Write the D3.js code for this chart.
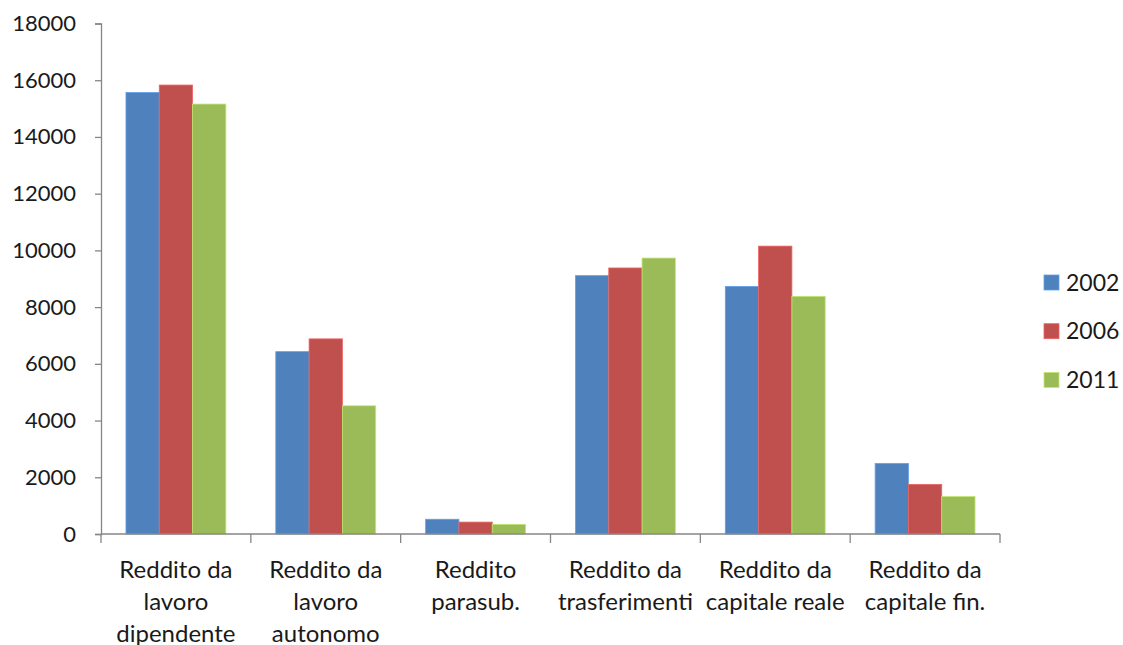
<!DOCTYPE html>
<html>
<head>
<meta charset="utf-8">
<script src="https://cdn.jsdelivr.net/npm/d3@7"></script>
<style>
  html, body { margin: 0; padding: 0; background: #fff; }
  svg { display: block; }
  text { font-family: "Lato", "Open Sans", sans-serif; fill: #1a1a1a; }
</style>
</head>
<body>
<svg id="chart" width="1123" height="645"></svg>
<script>
// Income components (values per year)
const categories = [
  ["Reddito da", "lavoro", "dipendente"],
  ["Reddito da", "lavoro", "autonomo"],
  ["Reddito", "parasub."],
  ["Reddito da", "trasferimenti"],
  ["Reddito da", "capitale reale"],
  ["Reddito da", "capitale fin."]
];
const seriesNames = ["2002", "2006", "2011"];
const values2002 = [15570, 6430, 520, 9110, 8730, 2490];
const values2006 = [15830, 6880, 420, 9380, 10150, 1750];
const values2011 = [15160, 4520, 340, 9730, 8380, 1320];
const yTicks = [0, 2000, 4000, 6000, 8000, 10000, 12000, 14000, 16000, 18000];
const colors = ["#4F81BD", "#C0504D", "#9BBB59"];

const seriesValues = [values2002, values2006, values2011];
const catKeys = categories.map((c, i) => i);

const svg = d3.select("#chart");
const plotLeft = 101, plotRight = 1000, plotTop = 23.5, plotBottom = 534;

const x = d3.scaleBand()
  .domain(catKeys)
  .range([plotLeft, plotRight])
  .paddingInner(1 / 3)
  .paddingOuter(1 / 6);

const xs = d3.scaleBand()
  .domain(seriesNames)
  .range([0, x.bandwidth()]);

const y = d3.scaleLinear().domain([0, 18000]).range([plotBottom, plotTop]);

// Bars
const groups = svg.append("g")
  .selectAll("g")
  .data(catKeys)
  .join("g")
  .attr("transform", d => `translate(${x(d)},0)`);

groups.selectAll("rect")
  .data(ci => seriesNames.map((s, si) => ({ s, si, v: seriesValues[si][ci] })))
  .join("rect")
  .attr("x", d => xs(d.s))
  .attr("y", d => y(d.v))
  .attr("width", xs.bandwidth())
  .attr("height", d => y(0) - y(d.v))
  .attr("fill", d => colors[d.si])
  .attr("stroke", d => d3.color(colors[d.si]).brighter(0.6))
  .attr("stroke-width", 0.8);

// Y axis
const yAxis = svg.append("g")
  .attr("transform", `translate(${plotLeft},0)`)
  .call(d3.axisLeft(y).tickValues(yTicks).tickSize(6).tickPadding(19).tickFormat(d3.format("d")));
yAxis.select(".domain").attr("stroke", "#868686").attr("stroke-width", 1.3);
yAxis.selectAll(".tick line").attr("stroke", "#868686").attr("stroke-width", 1.3);
yAxis.selectAll(".tick text")
  .attr("font-size", 22)
  .attr("font-family", "Lato, sans-serif")
  .attr("fill", "#1a1a1a");

// X axis with boundary ticks between categories
const boundaries = d3.range(categories.length + 1)
  .map(i => plotLeft + i * (plotRight - plotLeft) / categories.length);
const xAxisG = svg.append("g");
xAxisG.append("line")
  .attr("x1", plotLeft).attr("x2", plotRight)
  .attr("y1", y(0)).attr("y2", y(0))
  .attr("stroke", "#868686").attr("stroke-width", 1.3);
xAxisG.selectAll("line.b")
  .data(boundaries)
  .join("line")
  .attr("class", "b")
  .attr("x1", d => d).attr("x2", d => d)
  .attr("y1", y(0)).attr("y2", y(0) + 9)
  .attr("stroke", "#868686").attr("stroke-width", 1.3);

const labels = xAxisG.selectAll("text.cat")
  .data(catKeys)
  .join("text")
  .attr("class", "cat")
  .attr("text-anchor", "middle")
  .attr("font-size", 24)
  .attr("x", d => x(d) + x.bandwidth() / 2)
  .attr("y", 578);
labels.selectAll("tspan")
  .data(d => categories[d])
  .join("tspan")
  .attr("x", function () { return d3.select(this.parentNode).attr("x"); })
  .attr("dy", (d, i) => i === 0 ? 0 : 32)
  .text(d => d);

// Legend
const legend = svg.append("g").attr("transform", "translate(1044,282.5)");
const items = legend.selectAll("g")
  .data(seriesNames)
  .join("g")
  .attr("transform", (d, i) => `translate(0,${i * 48.7})`);
items.append("rect")
  .attr("x", 0).attr("y", -7.5)
  .attr("width", 15).attr("height", 15)
  .attr("fill", (d, i) => colors[i])
  .attr("stroke", (d, i) => d3.color(colors[i]).brighter(0.6))
  .attr("stroke-width", 0.8);
items.append("text")
  .attr("x", 22).attr("y", 0)
  .attr("dy", "0.36em")
  .attr("font-size", 23)
  .text(d => d);
</script>
</body>
</html>
